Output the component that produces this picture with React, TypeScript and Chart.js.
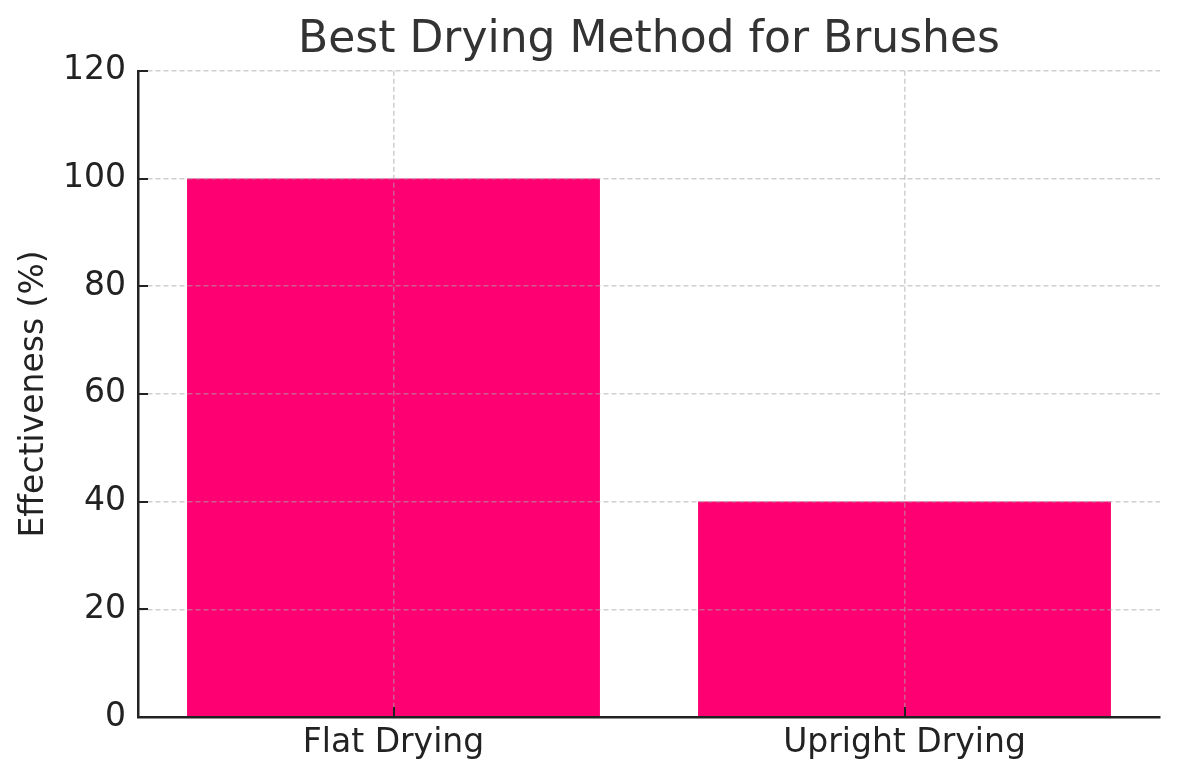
import React, { useEffect, useRef } from "react";
import { Chart, registerables } from "chart.js";

Chart.register(...registerables);

const categories: string[] = ["Flat Drying", "Upright Drying"];
const effectiveness: number[] = [100, 40];
const yTicks: number[] = [0, 20, 40, 60, 80, 100, 120];
const titleText = "Best Drying Method for Brushes";
const yAxisLabel = "Effectiveness (%)";

const FONT = "'DejaVu Sans', sans-serif";
const INK = "#222222";
const GRID = "rgba(168,168,168,0.55)";

const inwardTicks = {
  id: "inwardTicks",
  afterDraw(chart: any) {
    const { ctx, chartArea, scales } = chart;
    const len = 10;
    ctx.save();
    ctx.strokeStyle = INK;
    ctx.lineWidth = 2;
    ctx.setLineDash([]);
    const y = scales.y;
    y.ticks.forEach((_t: any, i: number) => {
      const py = Math.round(y.getPixelForTick(i));
      ctx.beginPath();
      ctx.moveTo(chartArea.left, py);
      ctx.lineTo(chartArea.left + len, py);
      ctx.stroke();
    });
    const x = scales.x;
    x.ticks.forEach((_t: any, i: number) => {
      const px = Math.round(x.getPixelForTick(i));
      ctx.beginPath();
      ctx.moveTo(px, chartArea.bottom);
      ctx.lineTo(px, chartArea.bottom - len);
      ctx.stroke();
    });
    ctx.restore();
  },
};

export default function App() {
  const ref = useRef<HTMLCanvasElement | null>(null);

  useEffect(() => {
    if (!ref.current) return;
    const chart = new Chart(ref.current, {
      type: "bar",
      data: {
        labels: categories,
        datasets: [
          {
            label: yAxisLabel,
            data: effectiveness,
            backgroundColor: "#ff0073",
            borderWidth: 0,
            categoryPercentage: 1,
            barPercentage: 0.808,
          },
        ],
      },
      options: {
        animation: false,
        responsive: true,
        maintainAspectRatio: false,
        layout: { padding: { left: 0, right: 20, top: 0, bottom: 0 } },
        plugins: {
          legend: { display: false },
          tooltip: { enabled: false },
          title: {
            display: true,
            text: titleText,
            fullSize: false,
            color: "#333333",
            font: { family: FONT, size: 44, weight: "normal" },
            padding: { top: 14, bottom: 4 },
          },
        },
        scales: {
          x: {
            offset: true,
            grid: {
              display: true,
              offset: false,
              color: GRID,
              lineWidth: 1.5,
              drawTicks: false,
              z: 1,
            },
            border: { display: true, color: INK, width: 2.5, dash: [5, 3], z: 2 },
            ticks: {
              color: INK,
              padding: 7,
              font: { family: FONT, size: 33 },
              maxRotation: 0,
            },
            afterFit: (s: any) => {
              s.height = 63;
            },
          },
          y: {
            min: 0,
            max: 120,
            afterBuildTicks: (s: any) => {
              s.ticks = yTicks.map((v) => ({ value: v }));
            },
            grid: {
              display: true,
              color: GRID,
              lineWidth: 1.5,
              drawTicks: false,
              z: 1,
            },
            border: { display: true, color: INK, width: 2.5, dash: [5, 3], z: 2 },
            ticks: {
              color: INK,
              padding: 12,
              font: { family: FONT, size: 33 },
            },
            title: {
              display: true,
              text: yAxisLabel,
              color: INK,
              font: { family: FONT, size: 33 },
              padding: { top: 15, bottom: 0 },
            },
            afterFit: (s: any) => {
              s.width = 138;
            },
          },
        },
      },
      plugins: [inwardTicks],
    });
    return () => chart.destroy();
  }, []);

  return (
    <div style={{ position: "absolute", left: 0, top: 0, width: 1180, height: 780, background: "#fff" }}>
      <canvas ref={ref} />
    </div>
  );
}
